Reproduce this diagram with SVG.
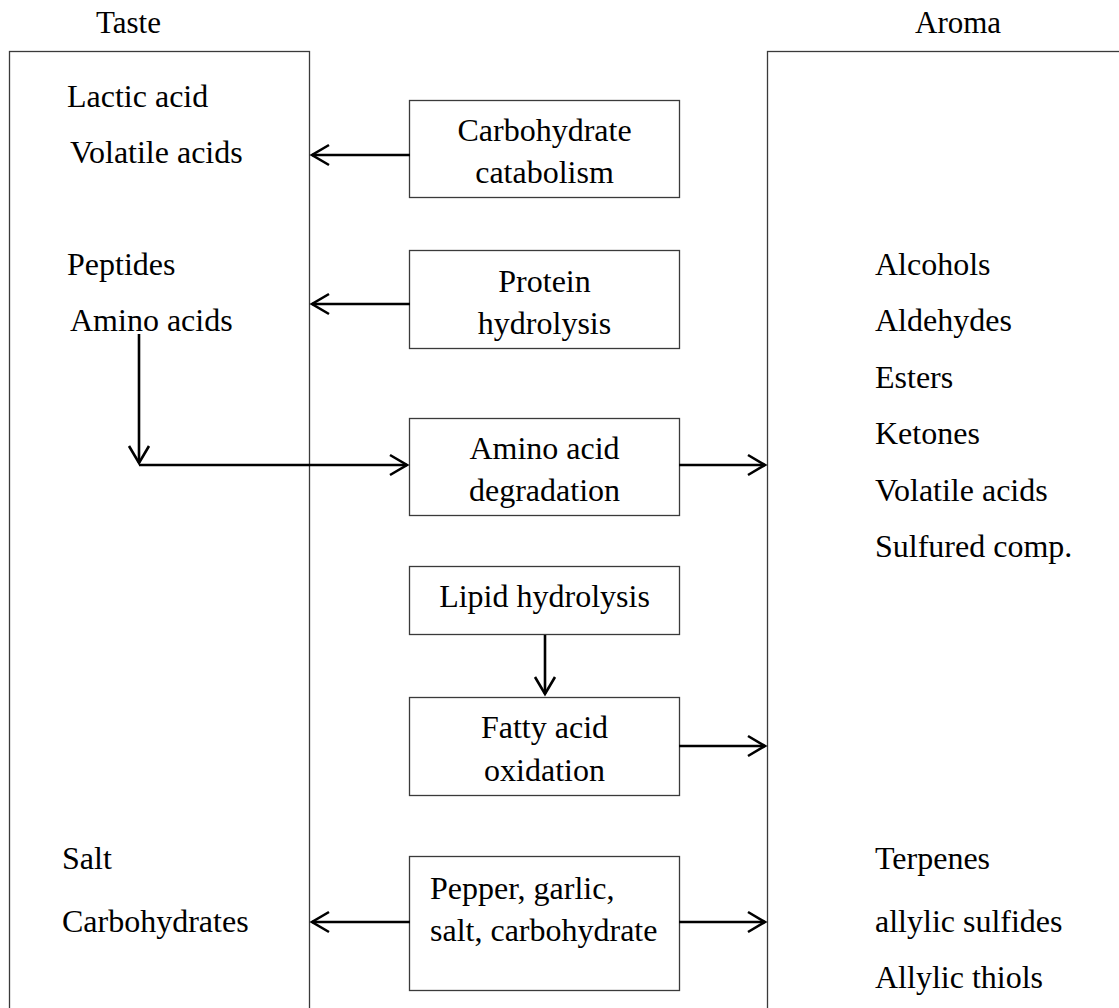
<svg xmlns="http://www.w3.org/2000/svg" width="1119" height="1008" viewBox="0 0 1119 1008">
<defs>
<style>
text{font-family:"Liberation Serif","Times New Roman",serif;font-size:32px;fill:#000}
.t{font-size:31px}
.c{text-anchor:middle}
.box{fill:#fff;stroke:#3a3a3a;stroke-width:1.3}
.arr{stroke:#000;stroke-width:2.6;fill:none;marker-end:url(#ah)}
</style>
<marker id="ah" markerUnits="userSpaceOnUse" markerWidth="22" markerHeight="24" refX="19" refY="12" orient="auto" overflow="visible">
<path d="M2,2 L19,12 L2,22" fill="none" stroke="#000" stroke-width="2.6"/>
</marker>
</defs>
<rect width="1119" height="1008" fill="#fff"/>
<g id="taste">
<text class="t" x="96" y="33">Taste</text>
<rect class="box" x="9.5" y="51.5" width="300" height="1000"/>
<text x="67" y="107">Lactic acid</text>
<text x="70" y="163">Volatile acids</text>
<text x="67" y="275">Peptides</text>
<text x="70" y="331">Amino acids</text>
<text x="62" y="869">Salt</text>
<text x="62" y="932">Carbohydrates</text>
</g>
<g id="aroma">
<text class="t" x="915" y="33">Aroma</text>
<rect class="box" x="767.5" y="51.5" width="400" height="1000"/>
<text x="875" y="275">Alcohols</text>
<text x="875" y="331">Aldehydes</text>
<text x="875" y="388">Esters</text>
<text x="875" y="444">Ketones</text>
<text x="875" y="501">Volatile acids</text>
<text x="875" y="557">Sulfured comp.</text>
<text x="875" y="869">Terpenes</text>
<text x="875" y="932">allylic sulfides</text>
<text x="875" y="988">Allylic thiols</text>
</g>
<g id="carb">
<rect class="box" x="409.5" y="100.5" width="270" height="97"/>
<text class="c" x="544.5" y="141">Carbohydrate</text>
<text class="c" x="544.5" y="183">catabolism</text>
</g>
<g id="protein">
<rect class="box" x="409.5" y="250.5" width="270" height="98"/>
<text class="c" x="544.5" y="292">Protein</text>
<text class="c" x="544.5" y="334">hydrolysis</text>
</g>
<g id="amino">
<rect class="box" x="409.5" y="418.5" width="270" height="97"/>
<text class="c" x="544.5" y="459">Amino acid</text>
<text class="c" x="544.5" y="501">degradation</text>
</g>
<g id="lipid">
<rect class="box" x="409.5" y="566.5" width="270" height="68"/>
<text class="c" x="544.5" y="607">Lipid hydrolysis</text>
</g>
<g id="fatty">
<rect class="box" x="409.5" y="697.5" width="270" height="98"/>
<text class="c" x="544.5" y="738">Fatty acid</text>
<text class="c" x="544.5" y="781">oxidation</text>
</g>
<g id="pepper">
<rect class="box" x="409.5" y="856.5" width="270" height="134"/>
<text x="430" y="899">Pepper, garlic,</text>
<text x="430" y="941">salt, carbohydrate</text>
</g>
<g id="connectors">
<line class="arr" x1="410" y1="155" x2="312" y2="155"/>
<line class="arr" x1="410" y1="304" x2="312" y2="304"/>
<line class="arr" x1="139" y1="334" x2="139" y2="463"/>
<line class="arr" x1="139" y1="465" x2="407" y2="465"/>
<line class="arr" x1="679" y1="465" x2="765" y2="465"/>
<line class="arr" x1="545" y1="635" x2="545" y2="694"/>
<line class="arr" x1="679" y1="746" x2="765" y2="746"/>
<line class="arr" x1="410" y1="922" x2="312" y2="922"/>
<line class="arr" x1="679" y1="922" x2="765" y2="922"/>
</g>
</svg>
